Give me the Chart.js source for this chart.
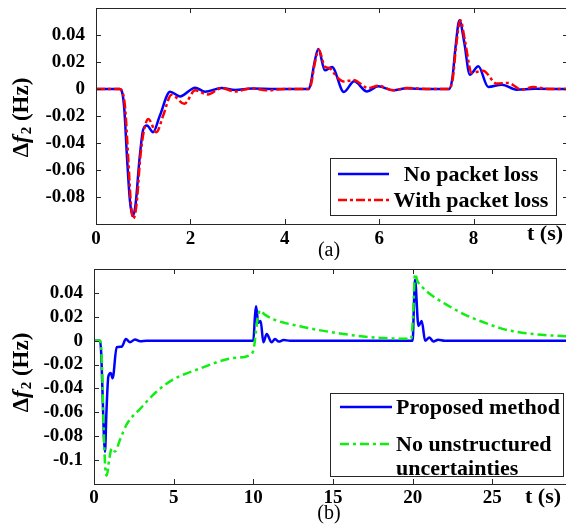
<!DOCTYPE html>
<html>
<head>
<meta charset="utf-8">
<script src="https://cdn.jsdelivr.net/npm/chart.js@4.4.0/dist/chart.umd.min.js"></script>
<style>
  body { margin: 0; width: 566px; height: 527px; overflow: hidden; background: #fff; }
  .panel { position: absolute; left: 0; overflow: hidden; }
</style>
</head>
<body>
<div class="panel" style="top:0;width:566px;height:260px"><canvas id="chartA" width="575" height="260"></canvas></div>
<div class="panel" style="top:260px;width:566px;height:267px"><canvas id="chartB" width="575" height="267"></canvas></div>
<script>
// (a) packet loss comparison
const tNoLoss = [0, 0.5, 0.55, 0.6, 0.66, 0.72, 0.78, 0.84, 0.92, 1.0, 1.08, 1.21, 1.35, 1.57, 1.78, 2.1, 2.31, 2.66, 2.95, 3.3,
  3.8, 4.5, 4.55, 4.62, 4.71, 4.85, 5.0, 5.25, 5.47, 5.74, 5.98, 6.3, 6.58, 7.0, 7.48, 7.55, 7.62, 7.7, 7.8, 7.92,
  8.1, 8.31, 8.6, 8.91, 9.3, 10];
const noLoss = [0, 0, -0.002, -0.015, -0.0525, -0.083, -0.094, -0.085, -0.0525, -0.030, -0.027, -0.032, -0.02, -0.002, -0.0055, 0.001, -0.002, 0.0007, -0.0008, 0.0003,
  0, 0, 0.004, 0.018, 0.0297, 0.0138, 0.0163, -0.0022, 0.0057, -0.0018, 0.002, -0.001, 0.0005, 0, 0, 0.008, 0.032, 0.051, 0.035, 0.0106,
  0.0168, 0.0015, 0.0032, -0.0005, 0.0002, 0];

const tLoss = [0, 0.5, 0.56, 0.62, 0.68, 0.74, 0.79, 0.86, 0.94, 1.02, 1.11, 1.28, 1.42, 1.6, 1.87, 2.1, 2.37, 2.66, 2.94, 3.3,
  3.6, 4.0, 4.5, 4.56, 4.63, 4.72, 4.85, 4.95, 5.1, 5.25, 5.45, 5.77, 5.98, 6.3, 6.6, 7.0, 7.48, 7.56, 7.63, 7.72,
  7.82, 7.96, 8.2, 8.49, 8.73, 9.02, 9.26, 9.6, 10];
const withLoss = [0, 0, -0.002, -0.015, -0.05, -0.085, -0.096, -0.085, -0.05, -0.03, -0.0223, -0.032, -0.02, -0.0042, -0.011, -0.001, -0.004, 0.0007, -0.0018, 0.0005,
  -0.001, 0, 0, 0.004, 0.018, 0.029, 0.0165, 0.0155, 0.009, 0.0055, 0.0066, 0.0007, 0.0025, -0.001, 0.0008, 0, 0, 0.008, 0.032, 0.051,
  0.035, 0.0119, 0.0136, 0.004, 0.0045, -0.0005, 0.0015, 0, 0];

// (b) unstructured uncertainties comparison
const tProposed = [0, 0.38, 0.45, 0.55, 0.62, 0.69, 0.78, 0.9, 1.05, 1.17, 1.42, 1.74, 2.0, 2.26, 2.57, 2.9, 3.3, 10.0, 10.1, 10.17,
  10.31, 10.46, 10.63, 10.84, 11.15, 11.36, 11.6, 11.9, 12.3, 20.0, 20.08, 20.15, 20.36, 20.57, 20.78, 21.05, 21.3, 21.6, 22.0, 30];
const proposed = [0, 0, -0.01, -0.05, -0.08, -0.093, -0.06, -0.03, -0.027, -0.0315, -0.0055, -0.005, 0.0014, -0.0014, 0.001, -0.0005, 0, 0, 0.02, 0.0288,
  0.015, 0.0165, -0.0014, 0.0055, -0.0014, 0.0014, -0.0008, 0.0005, 0, 0, 0.03, 0.051, 0.0123, 0.0165, 0, 0.0027, -0.0008, 0.0008, 0, 0];

const tNoUnc = [0, 0.4, 0.5, 0.6, 0.7, 0.8, 0.95, 1.11, 1.32, 1.63, 2.05, 2.9, 3.9, 4.9, 6.65, 8.75, 9.9, 10.05, 10.2, 10.42,
  10.7, 11.26, 12.93, 15.44, 17.53, 19.9, 20.02, 20.15, 20.3, 20.67, 21.3, 22.14, 23.4, 24.23, 25.49, 26.32, 27.58, 29.05, 30];
const noUnc = [0, 0, -0.02, -0.07, -0.105, -0.113, -0.1, -0.09, -0.0927, -0.083, -0.07, -0.057, -0.043, -0.033, -0.0233, -0.0146, -0.011, -0.005, 0.012, 0.0253,
  0.022, 0.0179, 0.012, 0.006, 0.0027, 0.0015, 0.02, 0.056, 0.05, 0.0439, 0.037, 0.03, 0.021, 0.0165, 0.0105, 0.0078, 0.0055, 0.0041, 0.0035];

const SERIF = "'Liberation Serif', 'Times New Roman', serif";

function points(xs, ys) {
  return xs.map((x, i) => ({ x: x, y: ys[i] }));
}

function yLabel(v, min, max) {
  if (Math.abs(v - min) < 1e-9 || Math.abs(v - max) < 1e-9) return '';
  if (Math.abs(v) < 1e-9) return '0';
  return String(+v.toFixed(2));
}

// box around the plot with inward ticks on all four sides (matlab style)
const frameTicks = {
  id: 'frameTicks',
  afterDatasetsDraw(chart) {
    const { ctx, chartArea: a, scales: { x, y } } = chart;
    ctx.save();
    ctx.strokeStyle = '#262626';
    ctx.lineWidth = 1;
    ctx.beginPath();
    x.ticks.forEach((t) => {
      const px = Math.round(x.getPixelForValue(t.value)) + 0.5;
      ctx.moveTo(px, a.bottom); ctx.lineTo(px, a.bottom - 5);
      ctx.moveTo(px, a.top); ctx.lineTo(px, a.top + 5);
    });
    y.ticks.forEach((t) => {
      const py = Math.round(y.getPixelForValue(t.value)) + 0.5;
      ctx.moveTo(a.left, py); ctx.lineTo(a.left + 5, py);
      ctx.moveTo(a.right, py); ctx.lineTo(a.right - 5, py);
    });
    ctx.stroke();
    ctx.strokeRect(Math.round(a.left) + 0.5, Math.round(a.top) + 0.5, Math.round(a.right - a.left), Math.round(a.bottom - a.top));
    ctx.restore();
  }
};

// legend box drawn inside the plot + axis labels
const annotations = {
  id: 'annotations',
  afterDraw(chart, args, opts) {
    const ctx = chart.ctx;
    ctx.save();

    // legend
    const lg = opts.legend;
    ctx.fillStyle = '#fff';
    ctx.fillRect(lg.box[0], lg.box[1], lg.box[2], lg.box[3]);
    ctx.strokeStyle = '#262626';
    ctx.lineWidth = 1;
    ctx.strokeRect(lg.box[0] + 0.5, lg.box[1] + 0.5, lg.box[2], lg.box[3]);
    ctx.font = 'bold 22px ' + SERIF;
    ctx.textBaseline = 'middle';
    chart.data.datasets.forEach((ds, i) => {
      const row = lg.rows[i];
      ctx.strokeStyle = ds.borderColor;
      ctx.lineWidth = ds.borderWidth;
      ctx.setLineDash(ds.borderDash || []);
      ctx.beginPath();
      ctx.moveTo(lg.lineX[0], row);
      ctx.lineTo(lg.lineX[1], row);
      ctx.stroke();
      ctx.setLineDash([]);
      ctx.fillStyle = '#000';
      ctx.textAlign = lg.align;
      ds.label.split('\n').forEach((line, k) => {
        ctx.fillText(line, lg.textX, row + 1 + k * 24.5);
      });
    });

    // x label
    ctx.fillStyle = '#000';
    ctx.textAlign = 'center';
    ctx.font = 'bold 22px ' + SERIF;
    ctx.fillText('t (s)', opts.xLabel[0], opts.xLabel[1]);

    // panel tag
    ctx.font = '20px ' + SERIF;
    ctx.fillText(opts.tag[0], opts.tag[1], opts.tag[2]);

    // y label: Δf2 (Hz), rotated
    const parts = [
      { t: '\u0394', f: 'bold 23px ' + SERIF, dy: 0 },
      { t: 'f', f: 'italic bold 23px ' + SERIF, dy: 0 },
      { t: '2', f: 'bold 15px ' + SERIF, dy: 5 },
      { t: ' (Hz)', f: 'bold 23px ' + SERIF, dy: 0 }
    ];
    let total = 0;
    parts.forEach((p) => { ctx.font = p.f; p.w = ctx.measureText(p.t).width; total += p.w; });
    ctx.translate(opts.yLabel[0], opts.yLabel[1]);
    ctx.rotate(-Math.PI / 2);
    ctx.textAlign = 'left';
    let cx = -total / 2;
    parts.forEach((p) => {
      ctx.font = p.f;
      ctx.fillText(p.t, cx, p.dy);
      cx += p.w + (p.t === 'f' ? 1 : 0);
    });
    ctx.restore();
  }
};

function makeChart(id, cfg) {
  return new Chart(document.getElementById(id), {
    type: 'line',
    data: { datasets: cfg.datasets },
    options: {
      responsive: false,
      animation: false,
      events: [],
      layout: { padding: { top: cfg.padTop, right: cfg.padRight, left: 0, bottom: 0 } },
      elements: { point: { radius: 0 }, line: { cubicInterpolationMode: 'monotone' } },
      scales: {
        x: {
          type: 'linear',
          min: cfg.xMin,
          max: cfg.xMax,
          grid: { display: false },
          border: { display: false },
          afterFit: (s) => { s.height = cfg.xAxisH; s.paddingLeft = 0; s.paddingRight = 0; },
          ticks: {
            stepSize: cfg.xStep,
            padding: cfg.xPad,
            autoSkip: false,
            color: '#000',
            font: { family: SERIF, size: 19, weight: 'bold' },
            maxRotation: 0,
            callback: (v) => (v === cfg.xMax ? '' : v)
          }
        },
        y: {
          min: cfg.yMin,
          max: cfg.yMax,
          grid: { display: false },
          border: { display: false },
          afterFit: (s) => { s.width = cfg.yAxisW; s.paddingTop = 0; s.paddingBottom = 0; },
          ticks: {
            stepSize: 0.02,
            padding: 3,
            autoSkip: false,
            color: '#000',
            font: { family: SERIF, size: 19, weight: 'bold' },
            callback: (v) => yLabel(v, cfg.yMin, cfg.yMax)
          }
        }
      },
      plugins: {
        legend: { display: false },
        tooltip: { enabled: false },
        annotations: cfg.notes
      }
    },
    plugins: [frameTicks, annotations]
  });
}

makeChart('chartA', {
  datasets: [
    { label: 'No packet loss', data: points(tNoLoss, noLoss), borderColor: '#0000ff', borderWidth: 2.5, order: 2 },
    { label: 'With packet loss', data: points(tLoss, withLoss), borderColor: '#ff0000', borderWidth: 2.5, borderDash: [9, 3, 3, 3], order: 1 }
  ],
  xMin: 0, xMax: 10, xStep: 2, xPad: -4,
  yMin: -0.1, yMax: 0.06,
  padTop: 8, padRight: 7, xAxisH: 36, yAxisW: 96,
  notes: {
    legend: { box: [330, 158, 226, 57], rows: [174, 200], lineX: [338, 389], textX: 471, align: 'center' },
    xLabel: [545, 234],
    tag: ['(a)', 329, 251],
    yLabel: [22, 118]
  }
});

makeChart('chartB', {
  datasets: [
    { label: 'Proposed method', data: points(tProposed, proposed), borderColor: '#0000ff', borderWidth: 2.5, order: 2 },
    { label: 'No unstructured\nuncertainties', data: points(tNoUnc, noUnc), borderColor: '#11ee11', borderWidth: 2.5, borderDash: [9, 4, 3, 4], order: 1 }
  ],
  xMin: 0, xMax: 30, xStep: 5, xPad: -5,
  yMin: -0.12, yMax: 0.06,
  padTop: 9, padRight: 3, xAxisH: 43, yAxisW: 94,
  notes: {
    legend: { box: [330, 133, 233, 83], rows: [147, 184], lineX: [340, 392], textX: 396, align: 'left' },
    xLabel: [543, 237],
    tag: ['(b)', 329, 254],
    yLabel: [22, 113]
  }
});
</script>
</body>
</html>
